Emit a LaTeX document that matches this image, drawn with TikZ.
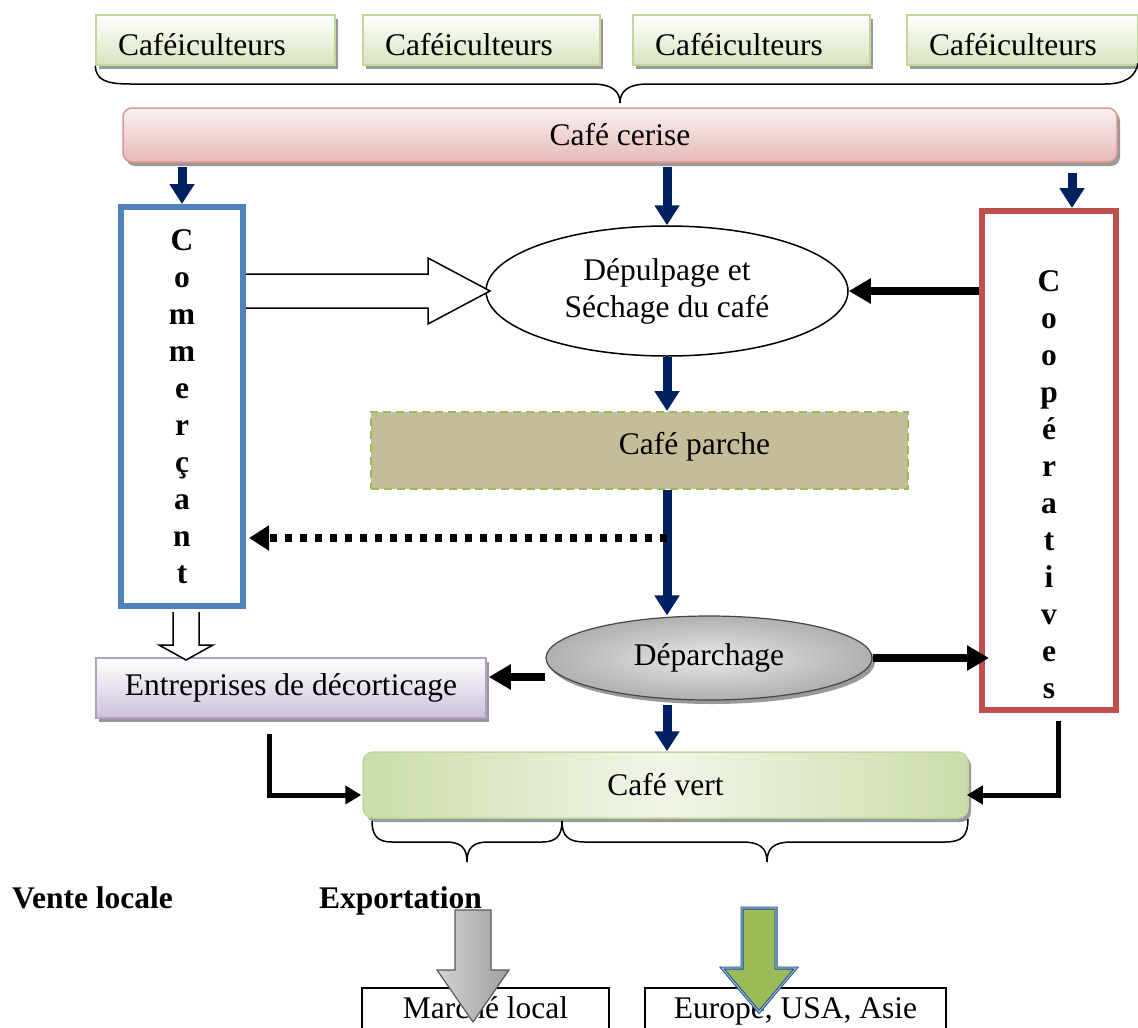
\documentclass[tikz,border=0pt]{standalone}
\usepackage{fontspec}
\setmainfont{Liberation Serif}
\usetikzlibrary{arrows.meta,shapes.geometric,calc,shadows}
\definecolor{navyA}{HTML}{002060}
\definecolor{blueB}{HTML}{4F81BD}
\definecolor{redB}{HTML}{C0504D}
\definecolor{greenB}{HTML}{C3D69B}
\definecolor{greenF}{HTML}{D7E4BD}
\definecolor{pinkB}{HTML}{D99694}
\definecolor{pinkF}{HTML}{E6B9B8}
\definecolor{parF}{HTML}{C4BD97}
\definecolor{parB}{HTML}{9BBB59}
\definecolor{purB}{HTML}{B2A1C7}
\definecolor{purF}{HTML}{CCC0DA}
\definecolor{oliveG}{HTML}{9BBB59}
\definecolor{darkB}{HTML}{1F497D}
\definecolor{lightB}{HTML}{8DB3E2}
\tikzset{
  txt/.style={font=\fontsize{31.5pt}{37pt}\selectfont},
  btxt/.style={font=\fontsize{31.5pt}{37pt}\selectfont\bfseries},
  shd/.style={drop shadow={shadow xshift=3pt,shadow yshift=-4pt,fill=black!40,opacity=1}},
  cafbox/.style={txt, rectangle, draw=greenB, line width=1.5pt, top color=white, bottom color=greenF, shd, minimum height=50pt, inner sep=0pt, text height=31pt, text depth=0pt},
  cerbox/.style={txt, rectangle, rounded corners=9pt, draw=pinkB, line width=1.5pt, top color=pinkF!20, bottom color=pinkF, shd, inner sep=0pt},
  combox/.style={btxt, rectangle, draw=blueB, line width=6pt, align=center, inner sep=0pt},
  coopbox/.style={rectangle, draw=redB, line width=6pt, inner sep=0pt},
  vlet/.style={btxt, align=center, inner sep=0pt},
  ellbox/.style={txt, ellipse, draw, line width=1.5pt, inner sep=0pt, align=center},
  parbox/.style={txt, rectangle, fill=parF, draw=parB, dash pattern=on 8pt off 5pt, line width=2pt, inner sep=0pt, text height=22pt, text depth=15pt},
  deparbox/.style={txt, ellipse, draw=gray!55!black, line width=1.2pt, inner color=gray!18, outer color=gray!62, shd, inner sep=0pt},
  entbox/.style={txt, rectangle, draw=purB, line width=1.5pt, top color=white, bottom color=purF, shd, inner sep=0pt},
  vertbox/.style={txt, rectangle, rounded corners=10pt, draw=greenB, line width=1.5pt, left color=greenB!85, right color=greenB!85, middle color=greenF!35, shd, inner sep=0pt},
  mktbox/.style={txt, rectangle, draw, line width=1.2pt, inner sep=0pt, minimum height=44pt, text height=22pt, text depth=6pt},
  navyarr/.style={draw=navyA, line width=9pt, -{Triangle[width=24pt,length=20pt]}},
  blkarr/.style={draw=black, line width=8pt, -{Triangle[width=24pt,length=22pt]}},
  elbarr/.style={draw=black, line width=5pt, -{Triangle[width=18pt,length=16pt]}},
  dotarr/.style={draw=black, line width=8pt, dash pattern=on 7pt off 8pt, -{Triangle[width=24pt,length=20pt]}},
  hollow/.style={draw=black, line width=1.5pt, fill=white},
  brc/.style={draw=black, line width=1.5pt}
}
\begin{document}
\begin{tikzpicture}[x=1pt,y=-1pt]
\useasboundingbox (0,0) rectangle (1138,1028);

% Cafeiculteurs
\node[cafbox, minimum width=239pt] (c1) at (215.5,40) {\makebox[195pt][l]{Caféiculteurs}};
\node[cafbox, minimum width=237pt] (c2) at (481.5,40) {\makebox[193pt][l]{Caféiculteurs}};
\node[cafbox, minimum width=237pt] (c3) at (751.5,40) {\makebox[193pt][l]{Caféiculteurs}};
\node[cafbox, minimum width=231pt] (c4) at (1022.5,40) {\makebox[187pt][l]{Caféiculteurs}};

% top brace
\draw[brc] (c1.south west) .. controls (96,80) and (106,84) .. (130,84) -- (592,84)
  .. controls (613,84) and (620,92) .. (620,103)
  .. controls (620,92) and (627,84) .. (648,84) -- (1105,84)
  .. controls (1126,84) and (1136,76) .. (1138,63);

% Cafe cerise
\node[cerbox, minimum width=994pt, minimum height=54pt] (cer) at (620,135) {Café cerise};

% Commercant
\node[combox, minimum width=122pt, minimum height=399pt] (com) at (182,406.5) {C\\o\\m\\m\\e\\r\\ç\\a\\n\\t};

% Cooperatives
\node[coopbox, minimum width=134pt, minimum height=499pt] (coop) at (1049,460.5) {};
\node[vlet] (coopt) at ($(coop.center)+(0,24.5)$) {C\\o\\o\\p\\é\\r\\a\\t\\i\\v\\e\\s};

% Depulpage
\node[ellbox, minimum width=362pt, minimum height=130pt] (dep) at (667,291) {Dépulpage et\\Séchage du café};

% Cafe parche
\node[parbox, minimum width=537pt, minimum height=77pt] (par) at (639.5,450.5) {\hspace*{110pt}Café parche};

% Deparchage
\node[deparbox, minimum width=326pt, minimum height=84pt] (dpr) at (709,658) {Déparchage};

% Entreprises
\node[entbox, minimum width=390pt, minimum height=60pt] (ent) at (291,688) {Entreprises de décorticage};

% Cafe vert
\node[vertbox, minimum width=605pt, minimum height=66pt] (vert) at (665.5,785) {Café vert};

% bottom braces
\draw[brc] (372,821) .. controls (372,836) and (378,842) .. (392,842) -- (446,842)
  .. controls (461,842) and (467,848) .. (467,862)
  .. controls (467,848) and (473,842) .. (488,842) -- (542,842)
  .. controls (556,842) and (562,836) .. (562,821);
\draw[brc] (562,821) .. controls (562,836) and (568,842) .. (585,842) -- (742,842)
  .. controls (760,842) and (767,848) .. (767,862)
  .. controls (767,848) and (774,842) .. (792,842) -- (945,842)
  .. controls (962,842) and (968,836) .. (968,819);

% labels
\node[btxt, anchor=base west, inner sep=0pt] (vl) at (12,908) {Vente locale};
\node[btxt, anchor=base west, inner sep=0pt] (ex) at (319,908) {Exportation};

% markets
\node[mktbox, minimum width=247pt] (ml) at (485.5,1010) {Marché local};
\node[mktbox, minimum width=301pt] (eu) at (795.5,1010) {Europe, USA, Asie};

% navy arrows
\draw[navyarr, shorten <=4pt] (com.north |- cer.south) -- (com.north);
\draw[navyarr, shorten <=4pt] (dep.north |- cer.south) -- (dep.north);
\coordinate (cpn) at ($(coop.north)+(23,0)$);
\draw[navyarr] ($(cpn |- cer.south)+(0,10)$) -- (cpn);
\draw[navyarr] (dep.south) -- (dep.south |- par.north);
\draw[navyarr] (dep.south |- par.south) -- (dep.south |- dpr.north);
\draw[navyarr, shorten <=4pt] (dep.south |- dpr.south) -- (dep.south |- vert.north);

% hollow arrow Commercant -> Depulpage
\coordinate (h1) at (com.east |- dep.west);
\draw[hollow] ($(h1)+(0,-17)$) -- ($(h1)+(182,-17)$) -- ($(h1)+(182,-33)$) -- ($(h1)+(244,0)$) -- ($(h1)+(182,33)$) -- ($(h1)+(182,17)$) -- ($(h1)+(0,17)$);

% hollow arrow Commercant -> Entreprises
\coordinate (h2) at ($(com.south)+(4,3)$);
\draw[hollow] ($(h2)+(-13,0)$) -- ($(h2)+(-13,33)$) -- ($(h2)+(-27,33)$) -- ($(h2)+(0,48)$) -- ($(h2)+(27,33)$) -- ($(h2)+(13,33)$) -- ($(h2)+(13,0)$);

% black arrows
\draw[blkarr] (coop.west |- dep.east) -- (dep.east);
\draw[blkarr, shorten >=-10pt] (dpr.east) -- (coop.west |- dpr.east);
\coordinate (a1) at ($(dpr.west)+(0,19)$);
\draw[blkarr] (a1) -- ($(a1 -| ent.east)+(2,0)$);

% dotted arrow
\coordinate (dt) at ($(dep.south |- par.south)+(0,48)$);
\draw[dotarr] (dt) -- ($(dt -| com.east)+(3,0)$);

% elbow arrows
\coordinate (e1) at ($(ent.south west)+(174,15)$);
\draw[elbarr] (e1) |- ($(vert.west)+(-1,10)$);
\coordinate (e2) at ($(coop.south)+(9,8)$);
\draw[elbarr] (e2) |- ($(vert.east)+(-2,10)$);

% grey block arrow
\coordinate (ga) at (473,910);
\draw[draw=gray!70!black, line width=1.2pt, left color=gray!35, right color=gray!75]
  ($(ga)+(-18,0)$) -- ($(ga)+(18,0)$) -- ($(ga)+(18,60)$) -- ($(ga)+(36,60)$) -- ($(ga)+(0,112)$) -- ($(ga)+(-36,60)$) -- ($(ga)+(-18,60)$) -- cycle;

% green block arrow
\coordinate (gb) at (759,908);
\draw[draw=darkB, double=lightB, double distance=1.2pt, line width=0.9pt, fill=oliveG]
  ($(gb)+(-17,0)$) -- ($(gb)+(17,0)$) -- ($(gb)+(17,60)$) -- ($(gb)+(37,60)$) -- ($(gb)+(0,104)$) -- ($(gb)+(-37,60)$) -- ($(gb)+(-17,60)$) -- cycle;
\end{tikzpicture}
\end{document}
